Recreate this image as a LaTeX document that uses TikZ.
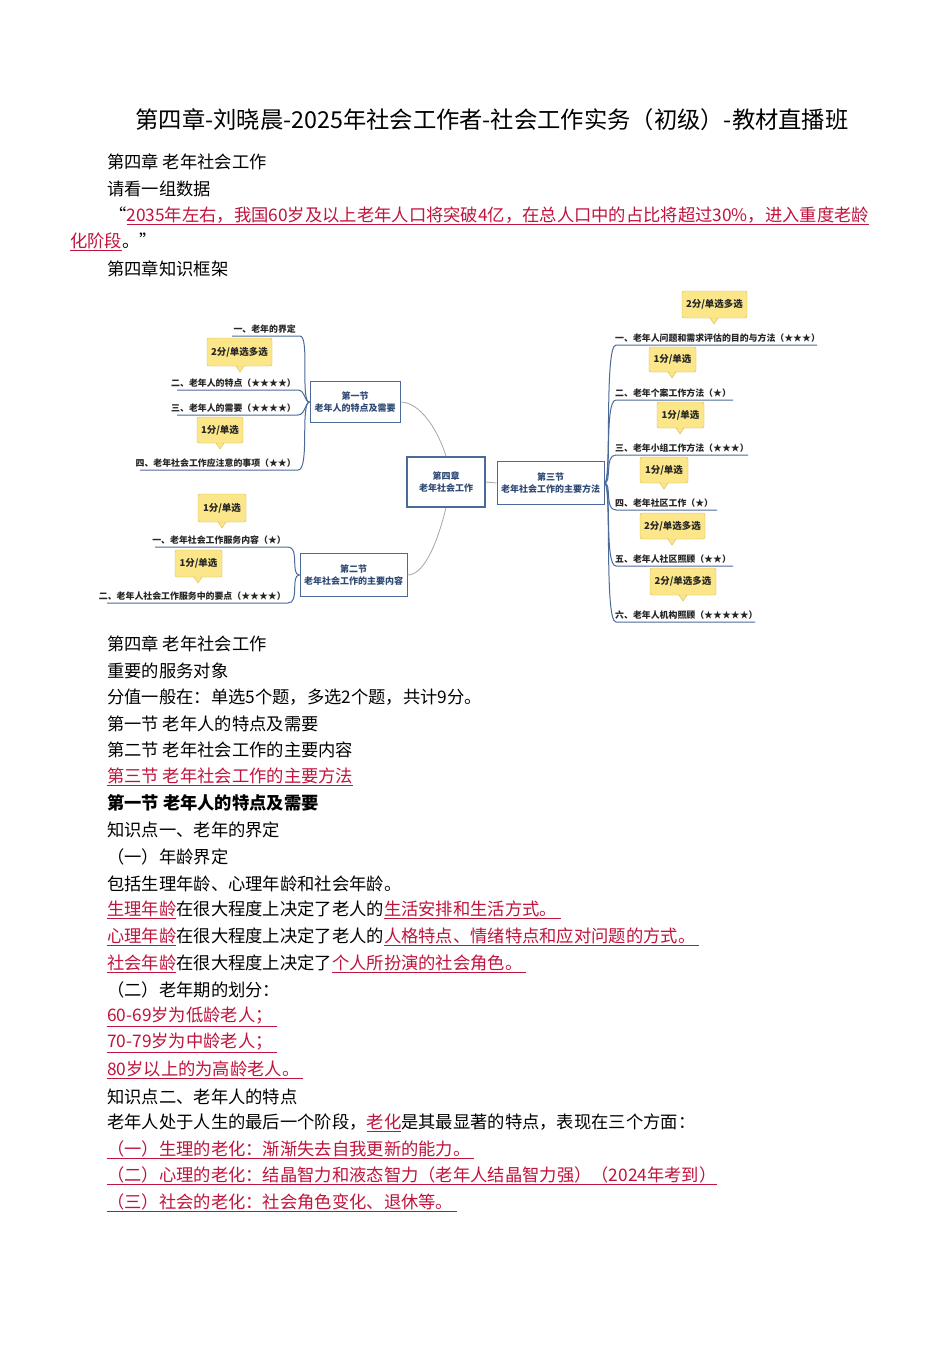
\documentclass[tikz,border=0pt]{standalone}
\usepackage{fontspec}
\setmainfont{Noto Sans CJK SC}
\usetikzlibrary{calc}
\definecolor{rd}{HTML}{C0143C}
\definecolor{bl}{HTML}{4A6A9A}
\definecolor{bt}{HTML}{2F4A75}
\definecolor{yl}{HTML}{FCE68A}
\definecolor{yd}{HTML}{D9B84E}
\newcommand{\rl}[1]{{\color{rd}\underline{#1}}}
\tikzset{
  body/.style={anchor=west,inner sep=0pt,font=\fontsize{17.3}{19}\selectfont},
  sec/.style={draw=bl,line width=1pt,fill=white,align=center,font=\fontsize{9}{12}\selectfont\bfseries,text=bt,inner sep=2pt},
  item/.style={anchor=south east,inner sep=1pt,font=\fontsize{8.9}{10}\selectfont\bfseries,text=black!85},
  itemr/.style={anchor=south west,inner sep=1pt,font=\fontsize{8.9}{10}\selectfont\bfseries,text=black!85},
  branch/.style={draw=bl,line width=1pt},
  link/.style={draw=gray!70,line width=0.8pt},
  callout/.style={draw=yd,fill=yl,rounded corners=2pt,inner sep=0pt},
}
\newcommand{\cout}[6]{% name, x1,y1,x2,y2, pointer x
  \node[callout,minimum width=#4-#2,minimum height=#5-#3] (#1) at ({(#2+#4)/2},{(#3+#5)/2}) {};
  \node[inner sep=0pt,font=\fontsize{9.5}{10}\selectfont\bfseries,text=black!85] (#1t) at (#1.center) {\csname ct#1\endcsname};
  \fill[yl,draw=yd] (#6-4,#5) -- (#6,#5+6) -- (#6+4,#5) -- cycle;
  \fill[yl] (#6-3.5,#5-0.6) rectangle (#6+3.5,#5+0.4);
}
\begin{document}
\begin{tikzpicture}[x=1pt,y=-1pt]
\useasboundingbox (0,0) rectangle (950,1345);
\fill[white] (0,0) rectangle (950,1345);
\node[inner sep=0pt,font=\fontsize{23.3}{26}\selectfont] (title) at (492,120) {第四章-刘晓晨-2025年社会工作者-社会工作实务（初级）-教材直播班};
\node[body] (l1) at (107,162) {第四章\ 老年社会工作};
\node[body] (l2) at (107,189) {请看一组数据};
\node[body] (l3) at (109,216) {“\rl{2035年左右，我国60岁及以上老年人口将突破4亿，在总人口中的占比将超过30\%，进入重度老龄}};
\node[body] (l4) at (70,242) {\rl{化阶段}。”};
\node[body] (l5) at (107,269) {第四章知识框架};
% mind map
\node[sec,line width=1.6pt,minimum width=78,minimum height=50] (c) at (446,482) {第四章\\老年社会工作};
\node[sec,minimum width=90,minimum height=41] (s1) at (355,402) {第一节\\老年人的特点及需要};
\node[sec,minimum width=107,minimum height=43] (s2) at (353.5,575) {第二节\\老年社会工作的主要内容};
\node[sec,minimum width=107,minimum height=43] (s3) at (550.5,483) {第三节\\老年社会工作的主要方法};
\draw[link] (c.north) .. controls (438,430) and (420,402) .. (s1.east);
\draw[link] (c.south) .. controls (438,540) and (425,575) .. (s2.east);
\draw[link] (c.east) -- (s3.west);
% sec1 items
\node[item] (a1) at (297,335) {一、老年的界定};
\node[item] (a2) at (297,389) {二、老年人的特点（★★★★）};
\node[item] (a3) at (297,414) {三、老年人的需要（★★★★）};
\node[item] (a4) at (297,469) {四、老年社会工作应注意的事项（★★）};
\coordinate (a1e) at (232,336); \coordinate (a2e) at (177,390);
\coordinate (a3e) at (177,415); \coordinate (a4e) at (140,470);
\draw[branch] (s1.west) .. controls (300,403) and (310,336) .. (300,336) -- (a1e);
\draw[branch] (s1.west) .. controls (305,403) and (305,390) .. (298,390) -- (a2e);
\draw[branch] (s1.west) .. controls (305,403) and (305,415) .. (298,415) -- (a3e);
\draw[branch] (s1.west) .. controls (300,403) and (310,470) .. (298,470) -- (a4e);
\expandafter\def\csname ctk1\endcsname{2分/单选多选}
\expandafter\def\csname ctk2\endcsname{1分/单选}
\cout{k1}{207}{338}{272}{366}{240}
\cout{k2}{197}{417}{243}{443}{220}
% sec2 items
\node[item] (b1) at (287,546) {一、老年社会工作服务内容（★）};
\node[item] (b2) at (287,602) {二、老年人社会工作服务中的要点（★★★★）};
\coordinate (b1e) at (155,547); \coordinate (b2e) at (107,603);
\draw[branch] (s2.west) .. controls (290,575) and (300,547) .. (288,547) -- (b1e);
\draw[branch] (s2.west) .. controls (290,575) and (300,603) .. (288,603) -- (b2e);
\expandafter\def\csname ctk3\endcsname{1分/单选}
\expandafter\def\csname ctk4\endcsname{1分/单选}
\cout{k3}{198}{494}{246}{522}{222}
\cout{k4}{175}{550}{222}{577}{198}
% sec3 items
\foreach \n/\t/\u/\r in {1/{一、老年人问题和需求评估的目的与方法（★★★）}/345/817,
  2/{二、老年个案工作方法（★）}/400/733,
  3/{三、老年小组工作方法（★★★）}/455/748,
  4/{四、老年社区工作（★）}/510/717,
  5/{五、老年人社区照顾（★★）}/566/733,
  6/{六、老年人机构照顾（★★★★★）}/622/755}{
  \node[itemr] (m\n) at (614,\u-1) {\t};
  \coordinate (m\n e) at (\r,\u);
  \draw[branch] (s3.east) .. controls (612,483) and (604,\u) .. (616,\u) -- (m\n e);
}
\expandafter\def\csname ctr1\endcsname{2分/单选多选}
\expandafter\def\csname ctr2\endcsname{1分/单选}
\expandafter\def\csname ctr3\endcsname{1分/单选}
\expandafter\def\csname ctr4\endcsname{1分/单选}
\expandafter\def\csname ctr5\endcsname{2分/单选多选}
\expandafter\def\csname ctr6\endcsname{2分/单选多选}
\cout{r1}{682}{291}{747}{318}{714}
\cout{r2}{649}{347}{696}{372}{672}
\cout{r3}{657}{402}{704}{428}{680}
\cout{r4}{640}{457}{688}{483}{664}
\cout{r5}{640}{513}{705}{539}{672}
\cout{r6}{650}{568}{716}{595}{683}
% lower text
\node[body] (t1) at (107,644) {第四章\ 老年社会工作};
\node[body] (t2) at (107,671) {重要的服务对象};
\node[body] (t3) at (107,697) {分值一般在：单选5个题，多选2个题，共计9分。};
\node[body] (t4) at (107,724) {第一节\ 老年人的特点及需要};
\node[body] (t5) at (107,750) {第二节\ 老年社会工作的主要内容};
\node[body] (t6) at (107,777) {\rl{第三节\ 老年社会工作的主要方法}};
\node[body,font=\fontsize{17.3}{19}\selectfont\bfseries] (t7) at (107,803) {第一节\ 老年人的特点及需要};
\node[body] (t8) at (107,830) {知识点一、老年的界定};
\node[body] (t9) at (107,857) {（一）年龄界定};
\node[body] (t10) at (107,884) {包括生理年龄、心理年龄和社会年龄。};
\node[body] (t11) at (107,910) {\rl{生理年龄}在很大程度上决定了老人的\rl{生活安排和生活方式。\ }};
\node[body] (t12) at (107,937) {\rl{心理年龄}在很大程度上决定了老人的\rl{人格特点、情绪特点和应对问题的方式。\ }};
\node[body] (t13) at (107,964) {\rl{社会年龄}在很大程度上决定了\rl{个人所扮演的社会角色。\ }};
\node[body] (t14) at (107,990) {（二）老年期的划分：};
\node[body] (t15) at (107,1017) {\rl{60-69岁为低龄老人；\ }};
\node[body] (t16) at (107,1043) {\rl{70-79岁为中龄老人；\ }};
\node[body] (t17) at (107,1070) {\rl{80岁以上的为高龄老人。\ }};
\node[body] (t18) at (107,1097) {知识点二、老年人的特点};
\node[body] (t19) at (107,1123) {老年人处于人生的最后一个阶段，\rl{老化}是其最显著的特点，表现在三个方面：};
\node[body] (t20) at (107,1150) {\rl{（一）生理的老化：渐渐失去自我更新的能力。\ }};
\node[body] (t21) at (107,1176) {\rl{（二）心理的老化：结晶智力和液态智力（老年人结晶智力强）（2024年考到）}};
\node[body] (t22) at (107,1203) {\rl{（三）社会的老化：社会角色变化、退休等。\ }};
\end{tikzpicture}
\end{document}
